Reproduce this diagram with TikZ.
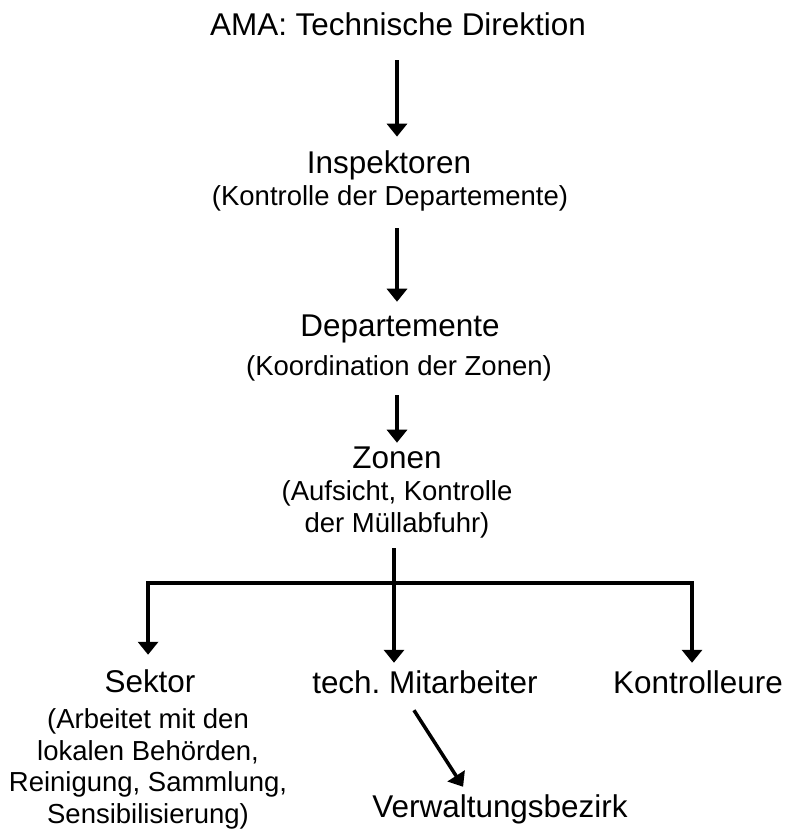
\documentclass[tikz,border=0pt]{standalone}
\usepackage{fontspec}
\setmainfont{Liberation Sans}
\usetikzlibrary{positioning, arrows.meta}

\newcommand{\mainsz}{\fontsize{17.9}{21}\selectfont}
\newcommand{\subsz}{\fontsize{15.65}{18.1}\selectfont}

\begin{document}
\begin{tikzpicture}[x=0.02cm, y=-0.02cm, >={Triangle[width=11.4pt, length=7.4pt]},
    head/.style={font=\mainsz, inner sep=0, anchor=base, text height=13.4pt, text depth=3.9pt},
    note/.style={font=\subsz, inner sep=0, align=center},
    link/.style={line width=2pt},
    arr/.style={link, ->}]
  \useasboundingbox (0,0) rectangle (789,832);
  % levels
  \node[head] (ama) at (398,35) {AMA: Technische Direktion};
  \node[head] (insp) at (389,173) {Inspektoren};
  \node[note, anchor=base] (inspsub) at (390,205) {(Kontrolle der Departemente)};
  \node[head] (dep) at (400,336) {Departemente};
  \node[note, anchor=base] (depsub) at (399,375) {(Koordination der Zonen)};
  \node[head] (zon) at (397,468) {Zonen};
  \node[note, anchor=north] (zonsub) at (397,480) {(Aufsicht, Kontrolle\\der Müllabfuhr)};
  % bottom row
  \node[head] (sek) at (150,692) {Sektor};
  \node[note, anchor=north] (seksub) at (148,708) {(Arbeitet mit den\\lokalen Behörden,\\Reinigung, Sammlung,\\Sensibilisierung)};
  \node[head] (tech) at (425,693) {tech.\ Mitarbeiter};
  \node[head] (kon) at (698,693) {Kontrolleure};
  \node[head] (verw) at (500,817) {Verwaltungsbezirk};
  % chain
  \draw[arr, shorten <=10.3pt, shorten >=7.1pt] (ama.south -| zon) -- (insp.north -| zon);
  \draw[arr, shorten <=9.7pt, shorten >=5.9pt] (inspsub.south -| zon) -- (dep.north -| zon);
  \draw[arr, shorten <=8pt, shorten >=0.8pt] (depsub.south -| zon) -- (zon.north);
  % fork
  \coordinate (fork) at (394,583);
  \draw[link, shorten <=5.7pt] (zonsub.south -| fork) -- (fork);
  \draw[arr, shorten >=7.6pt] (fork) -| ([xshift=-1.1pt]sek.north);
  \draw[arr, shorten >=3.6pt] (fork) -- (fork |- tech.north);
  \draw[arr, shorten >=3.6pt] (fork) -| ([xshift=-3.4pt]kon.north);
  \draw[arr] ([xshift=-6.3pt, yshift=-5.7pt]tech.south) -- ([xshift=-21pt, yshift=3.6pt]verw.north);
\end{tikzpicture}
\end{document}
